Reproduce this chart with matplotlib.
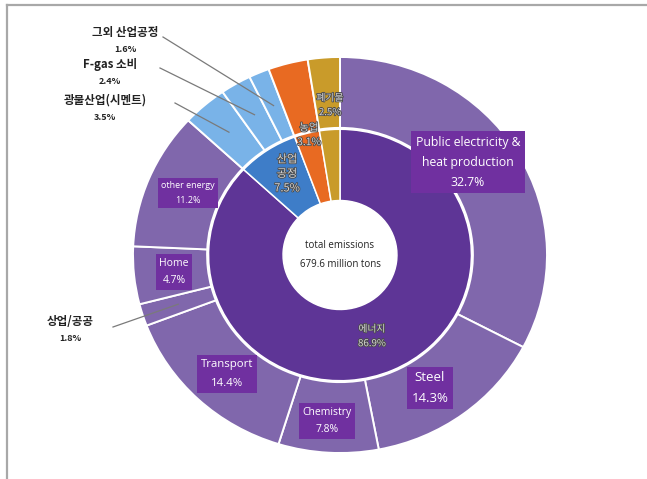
import matplotlib
matplotlib.use('Agg')
import matplotlib.pyplot as plt
import matplotlib.patheffects as pe
from matplotlib.lines import Line2D
import numpy as np

plt.rcParams['font.family'] = ['Noto Sans CJK KR', 'DejaVu Sans']

# inner ring: sectors
sectors = ['에너지', '산업공정', '농업', '폐기물']
sector_vals = [86.9, 7.5, 3.1, 2.5]

# outer ring: sub-sectors (clockwise from 12 o'clock)
subs = ['Public electricity &\nheat production', 'Steel', 'Chemistry', 'Transport',
        '상업/공공', 'Home', 'other energy',
        '광물산업(시멘트)', 'F-gas 소비', '그외 산업공정',
        '농업', '폐기물']
sub_vals = [32.7, 14.3, 7.8, 14.4, 1.8, 4.7, 11.2, 3.5, 2.4, 1.6, 3.1, 2.5]

total_label = 'total emissions\n679.6 million tons'

c_energy_in = '#5E3596'
c_energy_out = '#8067AC'
c_ind_in = '#3E7DC8'
c_ind_out = '#79B3E8'
c_agri = '#E86A22'
c_waste = '#C99B2A'
c_box = '#7030A0'

inner_colors = [c_energy_in, c_ind_in, c_agri, c_waste]
outer_colors = [c_energy_out] * 7 + [c_ind_out] * 3 + [c_agri, c_waste]

fig = plt.figure(figsize=(6.47, 4.79), dpi=100)
# center (340, 255) px, radii 207 x 198 px; limits +-1.2
cx, cy, rx, ry = 340, 255, 207, 198
k = 1.2
ax = fig.add_axes([(cx - rx * k) / 647, (479 - cy - ry * k) / 479,
                   2 * rx * k / 647, 2 * ry * k / 479])

ax.pie(sub_vals, radius=1.0, colors=outer_colors, startangle=90, counterclock=False,
       wedgeprops=dict(width=0.358, edgecolor='white', linewidth=1.4))
ax.pie(sector_vals, radius=0.635, colors=inner_colors, startangle=90, counterclock=False,
       wedgeprops=dict(width=0.36, edgecolor='white', linewidth=1.1))
ax.set_aspect('auto')
ax.set_xlim(-k, k)
ax.set_ylim(-k, k)
ax.axis('off')

# centre text
ax.text(0, 0.0, total_label, ha='center', va='center', fontsize=7,
        linespacing=2.0, color='#222222', family=['Open Sans', 'DejaVu Sans'])


def px(x, y):
    return (x - cx) / rx, (cy - y) / ry


# boxed labels on the outer ring
boxed = [
    (0, (468, 162), 8.8, 1.7),
    (1, (430, 388), 9.5, 1.75),
    (2, (327, 421), 7.5, 1.75),
    (3, (227, 374), 8.2, 1.9),
    (5, (174, 272), 7.5, 1.75),
    (6, (188, 193), 6.5, 1.75),
]
for i, (x, y), fs, ls in boxed:
    tx, ty = px(x, y)
    ax.text(tx, ty, '{}\n{}%'.format(subs[i], sub_vals[i]), ha='center', va='center',
            fontsize=fs, color='white', linespacing=ls,
            family=['Open Sans', 'DejaVu Sans'],
            bbox=dict(boxstyle='square,pad=0.35', facecolor=c_box, edgecolor='none'))

# inner ring labels
shadow = [pe.withStroke(linewidth=1.2, foreground='#4a4a4a')]
inner_pos = [(372, 336, 7), (287, 174, 8), (309, 135, 7.5), (330, 105, 7)]
inner_txt = ['에너지\n86.9%', '산업\n공정\n7.5%', '농업\n3.1%', '폐기물\n2.5%']
for (x, y, fs), t in zip(inner_pos, inner_txt):
    tx, ty = px(x, y)
    ax.text(tx, ty, t, ha='center', va='center', fontsize=fs, color='#d4d4d4',
            linespacing=1.55, path_effects=shadow)

# outside labels with leader lines
cum = np.cumsum([0] + sub_vals)
outside = [(9, (125, 41), (163, 37)), (8, (110, 73), (160, 68)),
           (7, (105, 109), (175, 103)), (4, (70, 330), (113, 327))]
for i, (x, y), (lx, ly) in outside:
    mid = (cum[i] + cum[i + 1]) / 2 / 100 * 360
    ang = np.deg2rad(90 - mid)
    ex, ey = 0.82 * np.cos(ang), 0.82 * np.sin(ang)
    sx, sy = px(lx, ly)
    ax.plot([sx, ex], [sy, ey], color='#7a7a7a', lw=0.9, clip_on=False)
    tx, ty = px(x, y)
    ax.text(tx, ty + 0.045, subs[i], ha='center', va='center', fontsize=8.3,
            fontweight='bold', color='#222222')
    ax.text(tx, ty - 0.045, '{}%'.format(sub_vals[i]), ha='center', va='center',
            fontsize=6.5, fontweight='bold', color='#222222')

# frame lines (top and left)
fig.add_artist(Line2D([7 / 647, 646 / 647], [1 - 5 / 479, 1 - 5 / 479],
                      color='#a8a8a8', lw=1.6, transform=fig.transFigure))
fig.add_artist(Line2D([7 / 647, 7 / 647], [0, 1 - 5 / 479],
                      color='#a8a8a8', lw=1.6, transform=fig.transFigure))

fig.savefig('out.png', dpi=100)
